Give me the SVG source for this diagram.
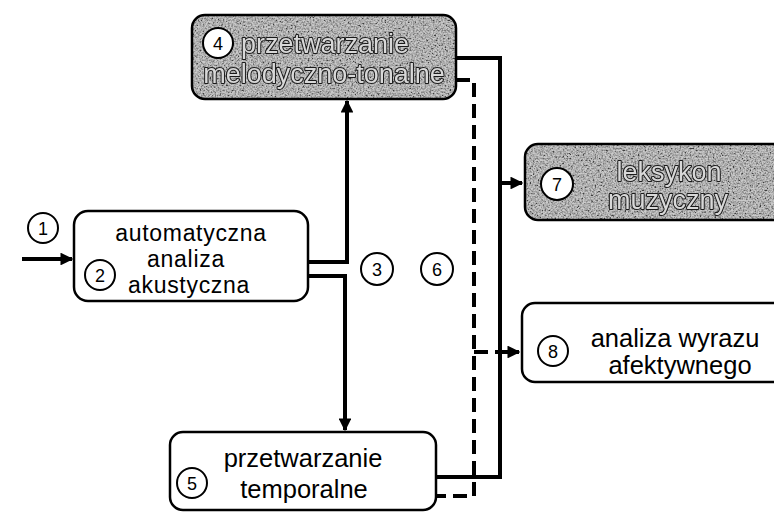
<svg xmlns="http://www.w3.org/2000/svg" width="774" height="513" viewBox="0 0 774 513">
<defs>
<style>
.box{fill:#fff;stroke:#000;stroke-width:2.5}
.gbox{fill:#8c8c8c}
.gstroke{fill:none;stroke:#000;stroke-width:2.5}
.num{fill:#fff;stroke:#000;stroke-width:2}
.nt{font-family:"Liberation Sans",Arial,sans-serif;font-size:18px;text-anchor:middle;fill:#000}
.t{font-family:"Liberation Sans",Arial,sans-serif;font-size:25.5px;text-anchor:middle;fill:#000}
.t3{font-family:"Liberation Sans",Arial,sans-serif;font-size:23px;letter-spacing:0.7px;text-anchor:middle;fill:#000}
.gt{font-family:"Liberation Sans",Arial,sans-serif;font-size:27px;text-anchor:middle;fill:#d8d8d8;stroke:#1a1a1a;stroke-width:2;paint-order:stroke;stroke-linejoin:round}
.ln{fill:none;stroke:#000;stroke-width:4}
.dl{fill:none;stroke:#000;stroke-width:4;stroke-dasharray:14 7}
</style>
<marker id="ah" viewBox="0 0 10 10" refX="9" refY="5" markerWidth="3.2" markerHeight="3.2" orient="auto" markerUnits="strokeWidth">
<path d="M0,0 L10,5 L0,10 Z" fill="#000"/>
</marker>
<filter id="grain" x="0" y="0" width="1" height="1">
<feTurbulence type="fractalNoise" baseFrequency="0.6" numOctaves="2" seed="4" result="n"/>
<feColorMatrix in="n" type="saturate" values="0" result="g"/>
<feComponentTransfer in="g" result="c">
<feFuncR type="linear" slope="3" intercept="-0.9"/>
<feFuncG type="linear" slope="3" intercept="-0.9"/>
<feFuncB type="linear" slope="3" intercept="-0.9"/>
<feFuncA type="linear" slope="0" intercept="1"/>
</feComponentTransfer>
<feComposite in="c" in2="SourceAlpha" operator="in"/>
</filter>
<filter id="flat" x="-0.05" y="-0.2" width="1.1" height="1.4">
<feOffset dx="0" dy="0"/>
</filter>
</defs>
<rect width="774" height="513" fill="#fff"/>

<g id="connectors">
<path class="ln" d="M22,259 H72" marker-end="url(#ah)"/>
<path class="ln" d="M308,262 H347 V101" marker-end="url(#ah)"/>
<path class="ln" d="M308,276 H345 V430" marker-end="url(#ah)"/>
<path class="ln" d="M456,58 H500 V477 H436"/>
<path class="ln" d="M500,183 H522" marker-end="url(#ah)"/>
<path class="dl" d="M456,80 H474 V496 H436"/>
<path class="dl" d="M474,352 H519" marker-end="url(#ah)"/>
</g>

<g id="n1">
<circle class="num" cx="43" cy="228" r="15"/>
<text class="nt" x="43" y="234.5">1</text>
</g>

<g id="n2">
<rect class="box" x="74" y="211" width="234" height="90" rx="14"/>
<circle class="num" cx="100" cy="275" r="15"/>
<text class="nt" x="100" y="281.5">2</text>
<text class="t3" x="191" y="241">automatyczna</text>
<text class="t3" x="186" y="267">analiza</text>
<text class="t3" x="189" y="293">akustyczna</text>
</g>

<g id="n3">
<circle class="num" cx="377" cy="269" r="16"/>
<text class="nt" x="377" y="275.5">3</text>
</g>

<g id="n6">
<circle class="num" cx="437" cy="269" r="16"/>
<text class="nt" x="437" y="275.5">6</text>
</g>

<g id="n4">
<rect class="gbox" x="192" y="15" width="264" height="84" rx="13"/>
<rect x="192" y="15" width="264" height="84" rx="13" fill="#000" filter="url(#grain)" opacity="0.55"/>
<rect class="gstroke" x="192" y="15" width="264" height="84" rx="13"/>
<circle class="num" cx="218" cy="43" r="15"/>
<text class="nt" x="218" y="49.5">4</text>
<g filter="url(#flat)">
<text class="gt" x="325" y="53">przetwarzanie</text>
<text class="gt" x="324" y="83">melodyczno-tonalne</text>
</g>
</g>

<g id="n7">
<rect class="gbox" x="525" y="144" width="270" height="76" rx="13"/>
<rect x="525" y="144" width="270" height="76" rx="13" fill="#000" filter="url(#grain)" opacity="0.55"/>
<rect class="gstroke" x="525" y="144" width="270" height="76" rx="13"/>
<circle class="num" cx="557" cy="184" r="16"/>
<text class="nt" x="557" y="190.5">7</text>
<g filter="url(#flat)">
<text class="gt" x="669" y="181">leksykon</text>
<text class="gt" x="668" y="209">muzyczny</text>
</g>
</g>

<g id="n8">
<rect class="box" x="522" y="303" width="270" height="79" rx="13"/>
<circle class="num" cx="553" cy="351" r="15"/>
<text class="nt" x="553" y="357.5">8</text>
<text class="t" x="675" y="347">analiza wyrazu</text>
<text class="t" x="680" y="374">afektywnego</text>
</g>

<g id="n5">
<rect class="box" x="170" y="432" width="266" height="78" rx="13"/>
<circle class="num" cx="192" cy="483" r="15"/>
<text class="nt" x="192" y="489.5">5</text>
<text class="t" x="303" y="467">przetwarzanie</text>
<text class="t" x="304" y="498">temporalne</text>
</g>
</svg>
